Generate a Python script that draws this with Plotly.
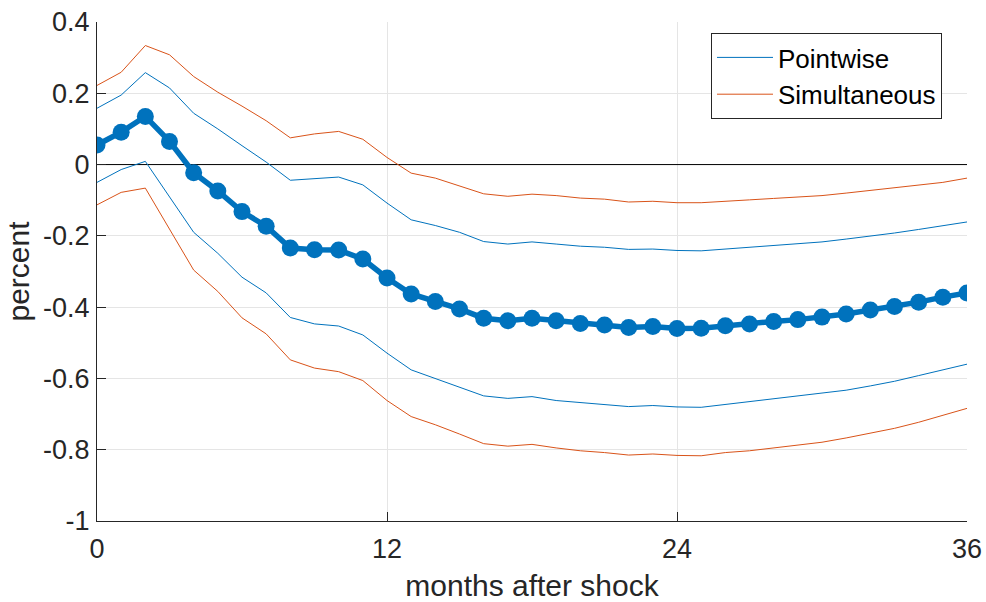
import plotly.graph_objects as go

# Horizon in months after the shock
months = list(range(37))

# Point estimate of the impulse response (percent)
irf = [0.055, 0.091, 0.135, 0.065, -0.023, -0.074, -0.132, -0.173, -0.234, -0.239,
       -0.240, -0.265, -0.318, -0.363, -0.384, -0.405, -0.431, -0.438, -0.431, -0.438,
       -0.446, -0.450, -0.457, -0.454, -0.460, -0.459, -0.452, -0.447, -0.440, -0.435,
       -0.428, -0.419, -0.408, -0.398, -0.386, -0.372, -0.360]

# Pointwise confidence band
pw_upper = [0.158, 0.195, 0.258, 0.215, 0.144, 0.100, 0.053, 0.007, -0.044, -0.039,
            -0.035, -0.057, -0.108, -0.155, -0.171, -0.190, -0.216, -0.223, -0.217, -0.223,
            -0.229, -0.232, -0.238, -0.237, -0.241, -0.242, -0.237, -0.233, -0.228, -0.223,
            -0.217, -0.209, -0.201, -0.192, -0.182, -0.172, -0.161]
pw_lower = [-0.050, -0.014, 0.009, -0.090, -0.190, -0.249, -0.316, -0.360, -0.429, -0.447,
            -0.453, -0.478, -0.529, -0.576, -0.600, -0.625, -0.649, -0.656, -0.651, -0.662,
            -0.668, -0.673, -0.679, -0.676, -0.680, -0.681, -0.673, -0.667, -0.658, -0.651,
            -0.643, -0.633, -0.621, -0.608, -0.592, -0.576, -0.560]

# Simultaneous confidence band
sim_upper = [0.222, 0.259, 0.334, 0.308, 0.247, 0.203, 0.164, 0.123, 0.075, 0.086,
             0.093, 0.071, 0.020, -0.024, -0.038, -0.059, -0.082, -0.089, -0.083, -0.087,
             -0.094, -0.097, -0.105, -0.103, -0.107, -0.107, -0.102, -0.099, -0.095, -0.092,
             -0.087, -0.080, -0.073, -0.065, -0.059, -0.050, -0.038]
sim_lower = [-0.113, -0.078, -0.066, -0.180, -0.296, -0.356, -0.430, -0.475, -0.548, -0.571,
             -0.581, -0.606, -0.662, -0.707, -0.730, -0.756, -0.783, -0.790, -0.785, -0.795,
             -0.803, -0.808, -0.815, -0.812, -0.816, -0.817, -0.808, -0.803, -0.795, -0.788,
             -0.779, -0.767, -0.753, -0.740, -0.723, -0.704, -0.684]

# Axis ticks
x_ticks = [0, 12, 24, 36]
y_ticks = [-1, -0.8, -0.6, -0.4, -0.2, 0, 0.2, 0.4]
y_tick_labels = ["-1", "-0.8", "-0.6", "-0.4", "-0.2", "0", "0.2", "0.4"]

BLUE = "#0072BD"
ORANGE = "#D95319"
AXIS = "#262626"
GRID = "#E5E5E5"
FONT = "Liberation Sans, Arial, Helvetica, sans-serif"

fig = go.Figure()

# zero reference line across the whole horizon
fig.add_trace(go.Scatter(x=[months[0], months[-1]], y=[0, 0], mode="lines",
                         line=dict(color="black", width=1), showlegend=False,
                         hoverinfo="skip"))

fig.add_trace(go.Scatter(x=months, y=pw_upper, mode="lines", name="Pointwise",
                         line=dict(color=BLUE, width=1), legendgroup="pw"))
fig.add_trace(go.Scatter(x=months, y=sim_upper, mode="lines", name="Simultaneous",
                         line=dict(color=ORANGE, width=1), legendgroup="sim"))
fig.add_trace(go.Scatter(x=months, y=pw_lower, mode="lines", name="Pointwise",
                         line=dict(color=BLUE, width=1), legendgroup="pw", showlegend=False))
fig.add_trace(go.Scatter(x=months, y=sim_lower, mode="lines", name="Simultaneous",
                         line=dict(color=ORANGE, width=1), legendgroup="sim", showlegend=False))
fig.add_trace(go.Scatter(x=months, y=irf, mode="lines+markers", name="IRF",
                         line=dict(color=BLUE, width=5.5),
                         marker=dict(color=BLUE, size=17), showlegend=False))

fig.update_layout(
    width=986, height=602,
    margin=dict(l=97, r=19, t=22, b=81, autoexpand=False),
    paper_bgcolor="white", plot_bgcolor="white",
    font=dict(family=FONT, size=27, color=AXIS),
    showlegend=True,
    legend=dict(
        x=(942 - 97) / 870, xanchor="right",
        y=(521 - 33) / 499, yanchor="top",
        bgcolor="white", bordercolor=AXIS, borderwidth=1,
        font=dict(family=FONT, size=26, color="black"),
        itemwidth=56, tracegroupgap=0,
    ),
    xaxis=dict(
        range=[0, 36], tickvals=x_ticks, ticktext=[str(t) for t in x_ticks],
        showgrid=True, gridcolor=GRID, gridwidth=1, zeroline=False,
        showline=True, linecolor=AXIS, linewidth=1,
        ticks="inside", ticklen=9, tickcolor=AXIS,
        tickfont=dict(family=FONT, size=27, color=AXIS),
        ticklabelstandoff=4, automargin=False,
        title=dict(text="months after shock", font=dict(family=FONT, size=30, color=AXIS),
                   standoff=18),
    ),
    yaxis=dict(
        range=[-1, 0.4], tickvals=y_ticks, ticktext=y_tick_labels,
        showgrid=True, gridcolor=GRID, gridwidth=1, zeroline=False,
        showline=True, linecolor=AXIS, linewidth=1,
        ticks="inside", ticklen=9, tickcolor=AXIS,
        tickfont=dict(family=FONT, size=27, color=AXIS),
        ticklabelstandoff=1, automargin=False,
        title=dict(text="percent", font=dict(family=FONT, size=30, color=AXIS), standoff=4),
    ),
)

fig.write_html("out.html", config={"displayModeBar": False})
